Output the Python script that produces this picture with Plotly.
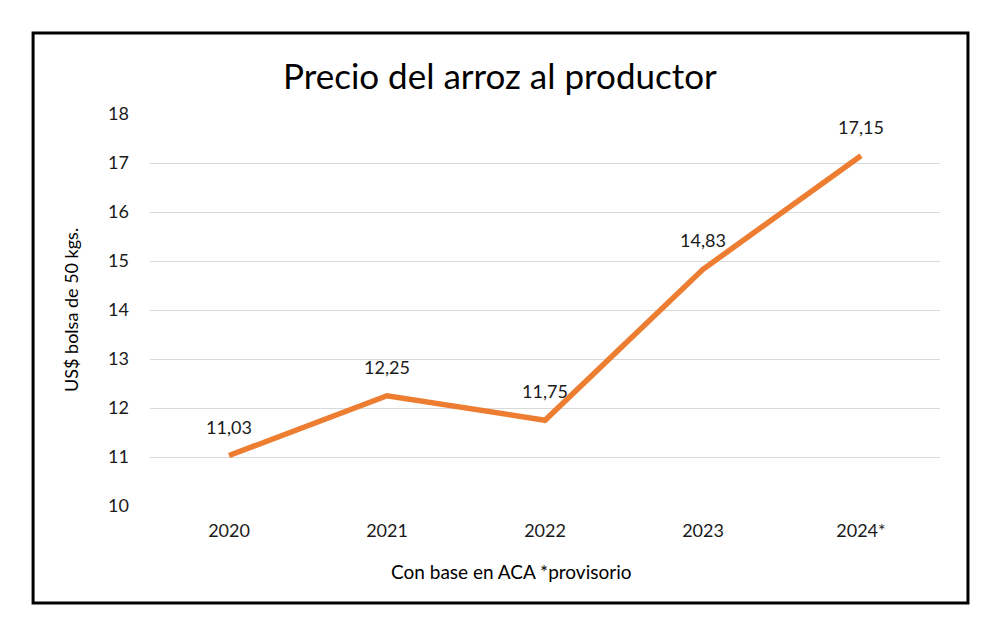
import plotly.graph_objects as go

# Data
years = ["2020", "2021", "2022", "2023", "2024*"]
prices = [11.03, 12.25, 11.75, 14.83, 17.15]
price_labels = ["11,03", "12,25", "11,75", "14,83", "17,15"]
y_ticks = [10, 11, 12, 13, 14, 15, 16, 17, 18]

FONT = "Lato"
TEXT_COLOR = "#1a1a1a"
GRID_COLOR = "#d9d9d9"

fig = go.Figure()

fig.add_trace(
    go.Scatter(
        x=years,
        y=prices,
        mode="lines",
        line=dict(color="#ED7D31", width=5.5),
        hoverinfo="skip",
    )
)

# Value labels above each point (x as category index, since "2020" etc.
# would otherwise be read as numbers on the category axis)
for i, (val, lab) in enumerate(zip(prices, price_labels)):
    fig.add_annotation(
        x=i, y=val,
        text=lab,
        showarrow=False,
        yshift=29,
        font=dict(family=FONT, size=18, color=TEXT_COLOR),
    )

# Page body has an 8px margin, so the figure starts at (8, 8) in the window
fig.update_layout(
    width=1000,
    height=631,
    margin=dict(l=142, r=68, t=106, b=133),
    paper_bgcolor="white",
    plot_bgcolor="white",
    showlegend=False,
    font=dict(family=FONT, color=TEXT_COLOR),
    xaxis=dict(
        type="category",
        range=[-0.5, 4.5],
        showgrid=False,
        showline=False,
        ticks="",
        ticklabelstandoff=12,
        tickfont=dict(size=18, color=TEXT_COLOR),
        fixedrange=True,
    ),
    yaxis=dict(
        range=[10, 18],
        tickvals=y_ticks,
        showgrid=True,
        gridcolor=GRID_COLOR,
        gridwidth=1.3,
        zeroline=False,
        showline=False,
        ticks="",
        ticklabelstandoff=20,
        tickfont=dict(size=18, color=TEXT_COLOR),
        fixedrange=True,
    ),
)

# Title
fig.add_annotation(
    xref="paper", yref="paper",
    x=0.443, y=1.0995,
    text="Precio del arroz al productor",
    showarrow=False,
    font=dict(family=FONT, size=35, color="#000000"),
    xanchor="center", yanchor="middle",
)

# Y-axis title
fig.add_annotation(
    xref="paper", yref="paper",
    x=-0.1, y=0.5,
    text="US$ bolsa de 50 kgs.",
    textangle=-90,
    showarrow=False,
    font=dict(family=FONT, size=18, color="#000000"),
    xanchor="center", yanchor="middle",
)

# X-axis note
fig.add_annotation(
    xref="paper", yref="paper",
    x=0.457, y=-0.168,
    text="Con base en ACA *provisorio",
    showarrow=False,
    font=dict(family=FONT, size=19, color="#000000"),
    xanchor="center", yanchor="middle",
)

# Black frame around the whole chart
fig.add_shape(
    type="rect",
    xref="paper", yref="paper",
    x0=-0.148, x1=1.0354,
    y0=-0.2474, y1=1.2066,
    line=dict(color="black", width=3),
    fillcolor="rgba(0,0,0,0)",
    layer="above",
)

fig.write_html("out.html")
